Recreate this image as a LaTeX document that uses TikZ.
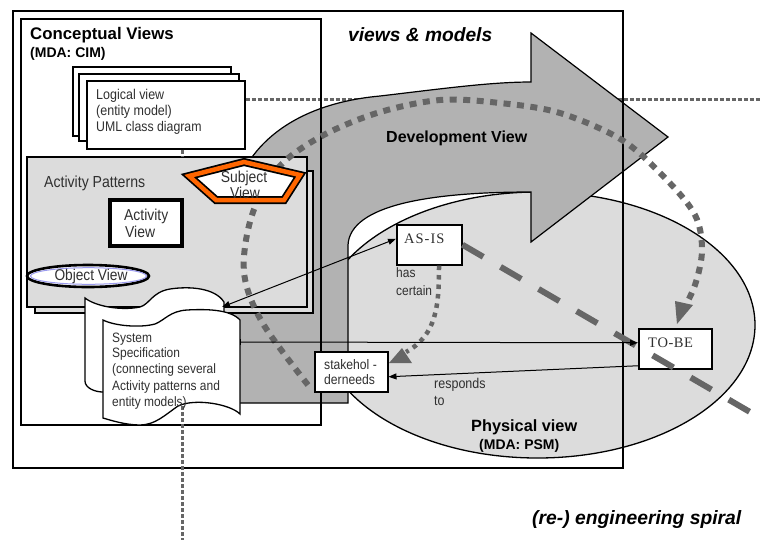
\documentclass[tikz,border=0pt]{standalone}
\usepackage{fontspec}
\setmainfont{Liberation Sans}
\newfontfamily\narrowf[FakeStretch=0.88]{Liberation Sans}
\newfontfamily\timesf{Liberation Serif}
\usetikzlibrary{arrows.meta,shapes.geometric}
\definecolor{dotgray}{HTML}{666666}
\definecolor{lightfill}{HTML}{DCDCDC}
\definecolor{arrowgray}{HTML}{B2B2B2}
\definecolor{orangeS}{HTML}{FF6600}
\definecolor{objblue}{HTML}{9A9AEE}
\definecolor{txtgray}{HTML}{303030}
\newcommand{\fsz}[1]{\fontsize{#1}{#1}\selectfont}
\begin{document}
\begin{tikzpicture}[x=1pt,y=-1pt,
  wbox/.style={draw, fill=white, line width=1.5pt, anchor=north west, inner sep=0pt},
  frame/.style={draw, line width=1.5pt, anchor=north west, inner sep=0pt},
  gbox/.style={draw, fill=lightfill, line width=1.5pt, anchor=north west, inner sep=0pt},
  nlab/.style={inner sep=0pt, anchor=base west, text=txtgray},
  head/.style={inner sep=0pt, anchor=base west, text=black},
  dotline/.style={draw=dotgray, line width=3pt, dash pattern=on 4pt off 2pt},
  spiral/.style={draw=dotgray, line width=6pt, dash pattern=on 7pt off 6.5pt},
  smalldots/.style={draw=dotgray, line width=4.5pt, dash pattern=on 4.5pt off 5pt},
  longdash/.style={draw=dotgray, line width=6pt, dash pattern=on 24pt off 20pt},
  conn/.style={draw=black, line width=1pt, -{Triangle[length=8pt,width=6pt]}},
  tipfill/.style={fill=dotgray},
]
\useasboundingbox (0,0) rectangle (760,542);
\fill[white] (0,0) rectangle (760,542);

% logical view stack
\node[wbox, minimum width=158pt, minimum height=69pt] (lvb) at (72,66) {};
\node[wbox, minimum width=160pt, minimum height=67pt] (lvm) at (78,73) {};
\node[wbox, minimum width=158pt, minimum height=68pt] (lvf) at (86,80) {};
\coordinate (farR) at (760,99);
\draw[dotline] (lvf.east |- farR) -- (farR);

% physical view ellipse
\draw[fill=lightfill, line width=1.3pt] (537.5,325) ellipse [x radius=217.5, y radius=133];

% development arrow
\draw[fill=arrowgray, line width=1.2pt, line join=miter]
  (232,403) -- (232,215) .. controls (232,170) and (270,106) .. (380,96)
  .. controls (440,89) and (490,82) .. (531,82) -- (531,33) -- (668,137) -- (531,242) -- (531,192)
  .. controls (430,192) and (350,205) .. (348,245) -- (348,403) -- cycle;

% frames
\node[frame, minimum width=610pt, minimum height=457pt] (outer) at (12,10) {};
\node[frame, minimum width=300pt, minimum height=406pt] (cv) at (20,18) {};

% activity patterns
\node[gbox, minimum width=278pt, minimum height=142pt] (apb) at (34,170) {};
\node[gbox, minimum width=280pt, minimum height=150pt] (apf) at (26,156) {};
\coordinate (dv) at (182,540);
\draw[dotline] (lvf.south -| dv) -- (apf.north -| dv);

% activity view
\node[wbox, line width=2.6pt, minimum width=73pt, minimum height=47pt] (av) at (108,198) {};
\draw[line width=0.8pt] ([shift={(3.5pt,-3.5pt)}]av.north west) rectangle ([shift={(-3.5pt,3.5pt)}]av.south east);

% object view
\node[ellipse, draw=black, fill=white, line width=2.6pt, minimum width=122pt, minimum height=22pt, inner sep=0pt] (ov) at (88,276) {};
\draw[objblue, line width=1pt] (88.5,276) ellipse [x radius=58, y radius=8.3];

% spiral (behind subject view)
\coordinate (spS) at (308,385);
\coordinate (spE) at (681,314);
\draw[spiral] plot[smooth, tension=0.55] coordinates {(spS) (262,322) (244,272) (252,215) (278,168) (320,137) (377,113) (440,100) (500,103) (560,113) (622,140) (665,178) (695,215) (702,250) (695,285) (spE)};
\fill[tipfill] (675,301) -- (693,305) -- (677,324) -- cycle;

% subject view pentagon
\draw[line width=8pt, line join=miter, fill=white] (244,162) -- (300,175) -- (284,200) -- (216,200) -- (189,176) -- cycle;
\draw[orangeS, line width=4.5pt, line join=miter] (244,162) -- (300,175) -- (284,200) -- (216,200) -- (189,176) -- cycle;

% system specification documents
\draw[fill=white, line width=1.3pt] (85,298) .. controls (95,306) and (120,311) .. (140,307)
  .. controls (150,304) and (152,292) .. (170,289) .. controls (190,286) and (215,288) .. (224,302)
  -- (224,392) -- (103,392) .. controls (95,392) and (85,388) .. (85,381) -- cycle;
\draw[fill=white, line width=1.3pt] (103,320) .. controls (115,326) and (140,328) .. (155,324)
  .. controls (165,320) and (170,311) .. (187,310) .. controls (205,309) and (230,309) .. (240,320)
  -- (240,414) .. controls (230,404) and (195,398) .. (178,406)
  .. controls (165,415) and (155,425) .. (140,425) .. controls (125,425) and (110,420) .. (103,418) -- cycle;
\coordinate (docTop) at (222,307);
\coordinate (docRight) at (240,342);
\coordinate (docBottom) at (182,406);
\draw[dotline] (docBottom) -- (dv);

% physical view boxes
\node[wbox, minimum width=65pt, minimum height=40pt] (asis) at (396,224) {};
\node[wbox, minimum width=73pt, minimum height=40pt] (tobe) at (638,328) {};
\node[wbox, minimum width=73pt, minimum height=40pt] (stake) at (314,351) {};

% has certain dotted curve
\draw[smalldots] (asis.south -| 439,0) .. controls (439,305) and (437,335) .. (406,352);
\fill[tipfill] (389,363) -- (412,363) -- (402,348) -- cycle;

% long dashed line
\coordinate (dashEnd) at (750,412);
\draw[longdash] (asis.east) -- (dashEnd);

% solid connectors
\draw[conn, {Triangle[length=8pt,width=6pt]}-{Triangle[length=8pt,width=6pt]}] (docTop) -- ([yshift=6pt]asis.west);
\draw[line width=1pt] (docRight) ++(0,-3) -- ++(0,6);
\draw[conn] (docRight) -- ([yshift=6pt]tobe.west);
\draw[conn] ([yshift=-17pt]tobe.west) -- ([yshift=-5pt]stake.east);

% headings
\node[head, font=\bfseries\fsz{16.8}] (tcv) at (30,39) {Conceptual Views};
\node[head, font=\bfseries\fsz{14}] (tcim) at (30,57) {(MDA: CIM)};
\node[head, font=\bfseries\itshape\fsz{19.2}] (tvm) at (348,41) {views \& models};
\node[head, font=\bfseries\fsz{16}] (tdev) at (386,142) {Development View};
\node[head, font=\bfseries\fsz{16.3}] (tphy) at (471,431) {Physical view};
\node[head, font=\bfseries\fsz{14}] (tpsm) at (479,449) {(MDA: PSM)};
\node[head, font=\bfseries\itshape\fsz{19.3}] (tspiral) at (532,524) {(re-) engineering spiral};

% logical view text
\node[nlab, font=\narrowf\fsz{14.2}] (l1) at (96,99) {Logical view};
\node[nlab, font=\narrowf\fsz{14.2}] (l2) at (96,115) {(entity model)};
\node[nlab, font=\narrowf\fsz{14}] (l3) at (96,131) {UML class diagram};

\node[nlab, font=\narrowf\fsz{16}] (tap) at (44,187) {Activity Patterns};
\node[nlab, font=\narrowf\fsz{15.8}] (tav1) at (124,220) {Activity};
\node[nlab, font=\narrowf\fsz{15.8}] (tav2) at (125,237) {View};
\node[nlab, font=\narrowf\fsz{15.8}, anchor=base] (tsv1) at (244,182) {Subject};
\node[nlab, font=\narrowf\fsz{15.8}, anchor=base] (tsv2) at (245,198) {View};
\node[nlab, font=\narrowf\fsz{15.6}, anchor=base] (tov) at (91,280) {Object View};

\node[nlab, font=\narrowf\fsz{13.6}] (s1) at (112,342) {System};
\node[nlab, font=\narrowf\fsz{13.6}] (s2) at (112,357) {Specification};
\node[nlab, font=\narrowf\fsz{13.6}] (s3) at (112,373) {(connecting several};
\node[nlab, font=\narrowf\fsz{13.6}] (s4) at (112,390) {Activity patterns and};
\node[nlab, font=\narrowf\fsz{13.6}] (s5) at (112,406) {entity models)};

\node[nlab, font=\timesf\fsz{14.5}] (tasis) at (404,243) {A\kern1pt S\kern1pt -\kern1pt I\kern1pt S};
\node[nlab, font=\timesf\fsz{14.5}] (ttobe) at (648,347) {T\kern.5pt O\kern.5pt -\kern.5pt B\kern.5pt E};
\node[nlab, font=\narrowf\fsz{13.6}] (th1) at (396,277) {has};
\node[nlab, font=\narrowf\fsz{13.6}] (th2) at (396,295) {certain};
\node[nlab, font=\narrowf\fsz{13.8}] (tsk1) at (324,369) {stakehol -};
\node[nlab, font=\narrowf\fsz{13.8}] (tsk2) at (324,384) {derneeds};
\node[nlab, font=\narrowf\fsz{14.2}] (tr1) at (434,388) {responds};
\node[nlab, font=\narrowf\fsz{14.2}] (tr2) at (434,405) {to};
\end{tikzpicture}
\end{document}
